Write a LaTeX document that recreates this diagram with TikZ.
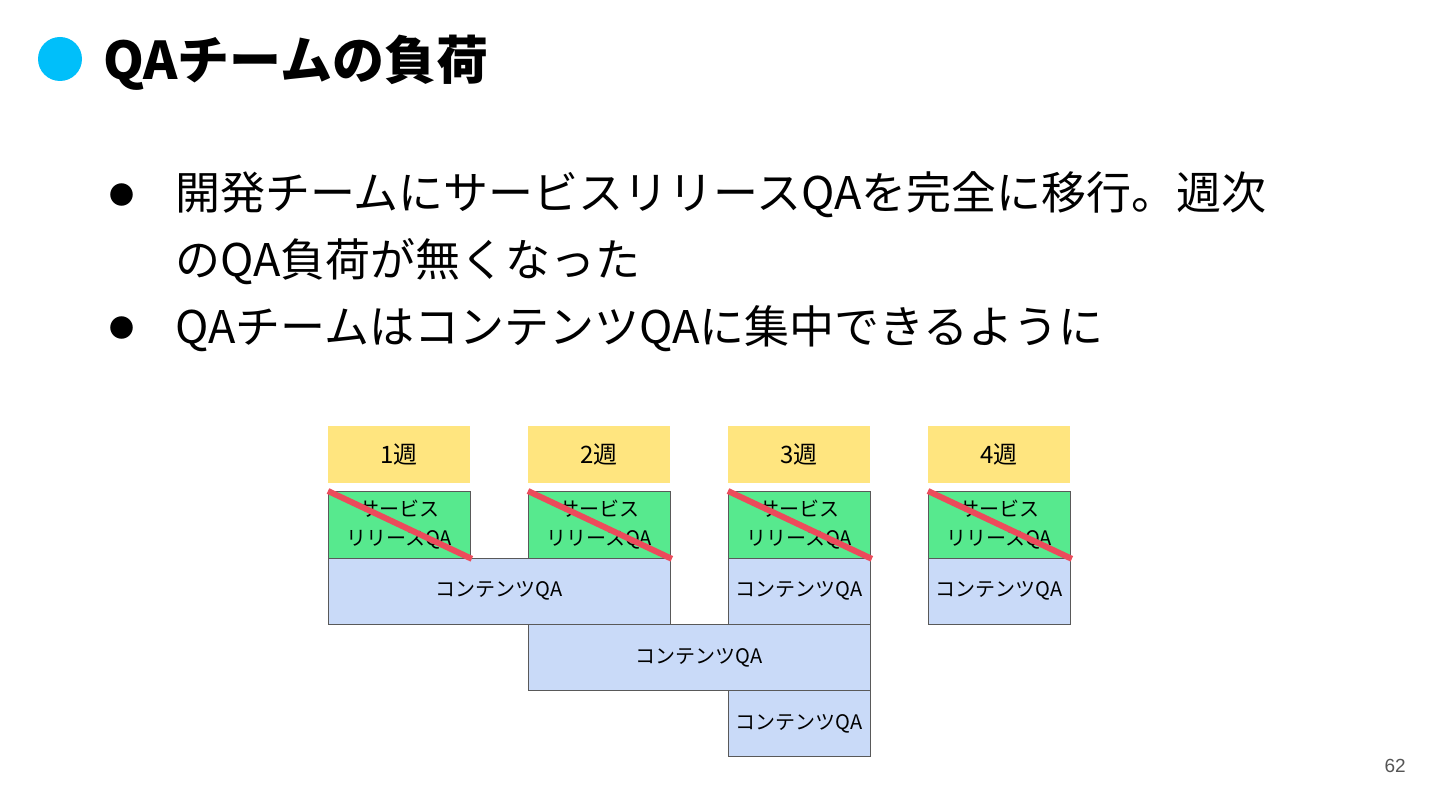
\documentclass[tikz,border=0pt]{standalone}
\usepackage{fontspec}
\usepackage{tikz}
\usetikzlibrary{positioning}

\newfontfamily\jpfont{Noto Sans CJK JP}
\newfontfamily\numfont{Liberation Sans}

\definecolor{titlecyan}{HTML}{00BFFA}
\definecolor{weekyellow}{HTML}{FFE57F}
\definecolor{relgreen}{HTML}{57E98E}
\definecolor{conblue}{HTML}{C9DAF8}
\definecolor{boxgray}{HTML}{595959}
\definecolor{strikered}{HTML}{EC4B5B}
\definecolor{pagegray}{HTML}{555555}

\begin{document}
\begin{tikzpicture}[
  x=1pt, y=-1pt,
  % Styles
  titletext/.style={anchor=base west, inner sep=0pt, font=\jpfont\bfseries\fontsize{52}{60}\selectfont},
  bullettext/.style={anchor=base west, inner sep=0pt, font=\jpfont\fontsize{45}{67}\selectfont},
  bulletdot/.style={inner sep=0pt, font=\jpfont\fontsize{25}{28}\selectfont},
  week/.style={fill=weekyellow, minimum width=142pt, minimum height=57pt, inner sep=0pt, outer sep=0pt, font=\jpfont\fontsize{24}{28}\selectfont},
  release/.style={draw=boxgray, line width=1pt, fill=relgreen, minimum width=142pt, minimum height=67pt, inner sep=0pt, outer sep=0pt, align=center, font=\jpfont\fontsize{20}{29}\selectfont},
  content/.style={draw=boxgray, line width=1pt, fill=conblue, minimum width=142pt, minimum height=66.3pt, inner sep=0pt, outer sep=0pt, font=\jpfont\fontsize{20}{24}\selectfont},
  strike/.style={draw=strikered, line width=6pt, shorten >=-2pt},
  ]

\useasboundingbox[fill=white] (0,0) rectangle (1440,810);

%--- Title ----------------------------------------------------------
\node[circle, fill=titlecyan, minimum size=44pt, inner sep=0pt] (dot) at (60,59) {};
\node[titletext] (title) at (103,80) {QAチームの負荷};

%--- Bullets --------------------------------------------------------
\node[bulletdot] (dot1) at (122,195) {●};
\node[bullettext] (line1) at (175,210) {開発チームにサービスリリースQAを完全に移行。週次};
\node[bullettext] (line2) at (175,277) {のQA負荷が無くなった};
\node[bulletdot] (dot2) at (122,328) {●};
\node[bullettext] (line3) at (175,343) {QAチームはコンテンツQAに集中できるように};

%--- Week headers ---------------------------------------------------
\node[week] (h1) at (399,454.5) {1週};
\node[week, right=58pt of h1] (h2) {2週};
\node[week, right=58pt of h2] (h3) {3週};
\node[week, right=58pt of h3] (h4) {4週};

%--- Service release QA ---------------------------------------------
\node[release, below=8pt of h1] (g1) {サービス\\リリースQA};
\node[release, below=8pt of h2] (g2) {サービス\\リリースQA};
\node[release, below=8pt of h3] (g3) {サービス\\リリースQA};
\node[release, below=8pt of h4] (g4) {サービス\\リリースQA};

%--- Contents QA ----------------------------------------------------
\node[content, minimum width=342pt, anchor=north west] (c1) at (g1.south west) {コンテンツQA};
\node[content, below=0pt of g3] (c3) {コンテンツQA};
\node[content, below=0pt of g4] (c4) {コンテンツQA};
\node[content, minimum width=342pt, anchor=north west] (c2) at (g2.west |- c1.south) {コンテンツQA};
\node[content, anchor=north west] (c5) at (g3.west |- c2.south) {コンテンツQA};

% Strike out the release QA
\draw[strike] (g1.north west) -- (g1.south east);
\draw[strike] (g2.north west) -- (g2.south east);
\draw[strike] (g3.north west) -- (g3.south east);
\draw[strike] (g4.north west) -- (g4.south east);

%--- Page number ----------------------------------------------------
\node[anchor=base east, inner sep=0pt, text=pagegray, font=\numfont\fontsize{19}{22}\selectfont] (page) at (1406,772) {62};

\end{tikzpicture}
\end{document}
